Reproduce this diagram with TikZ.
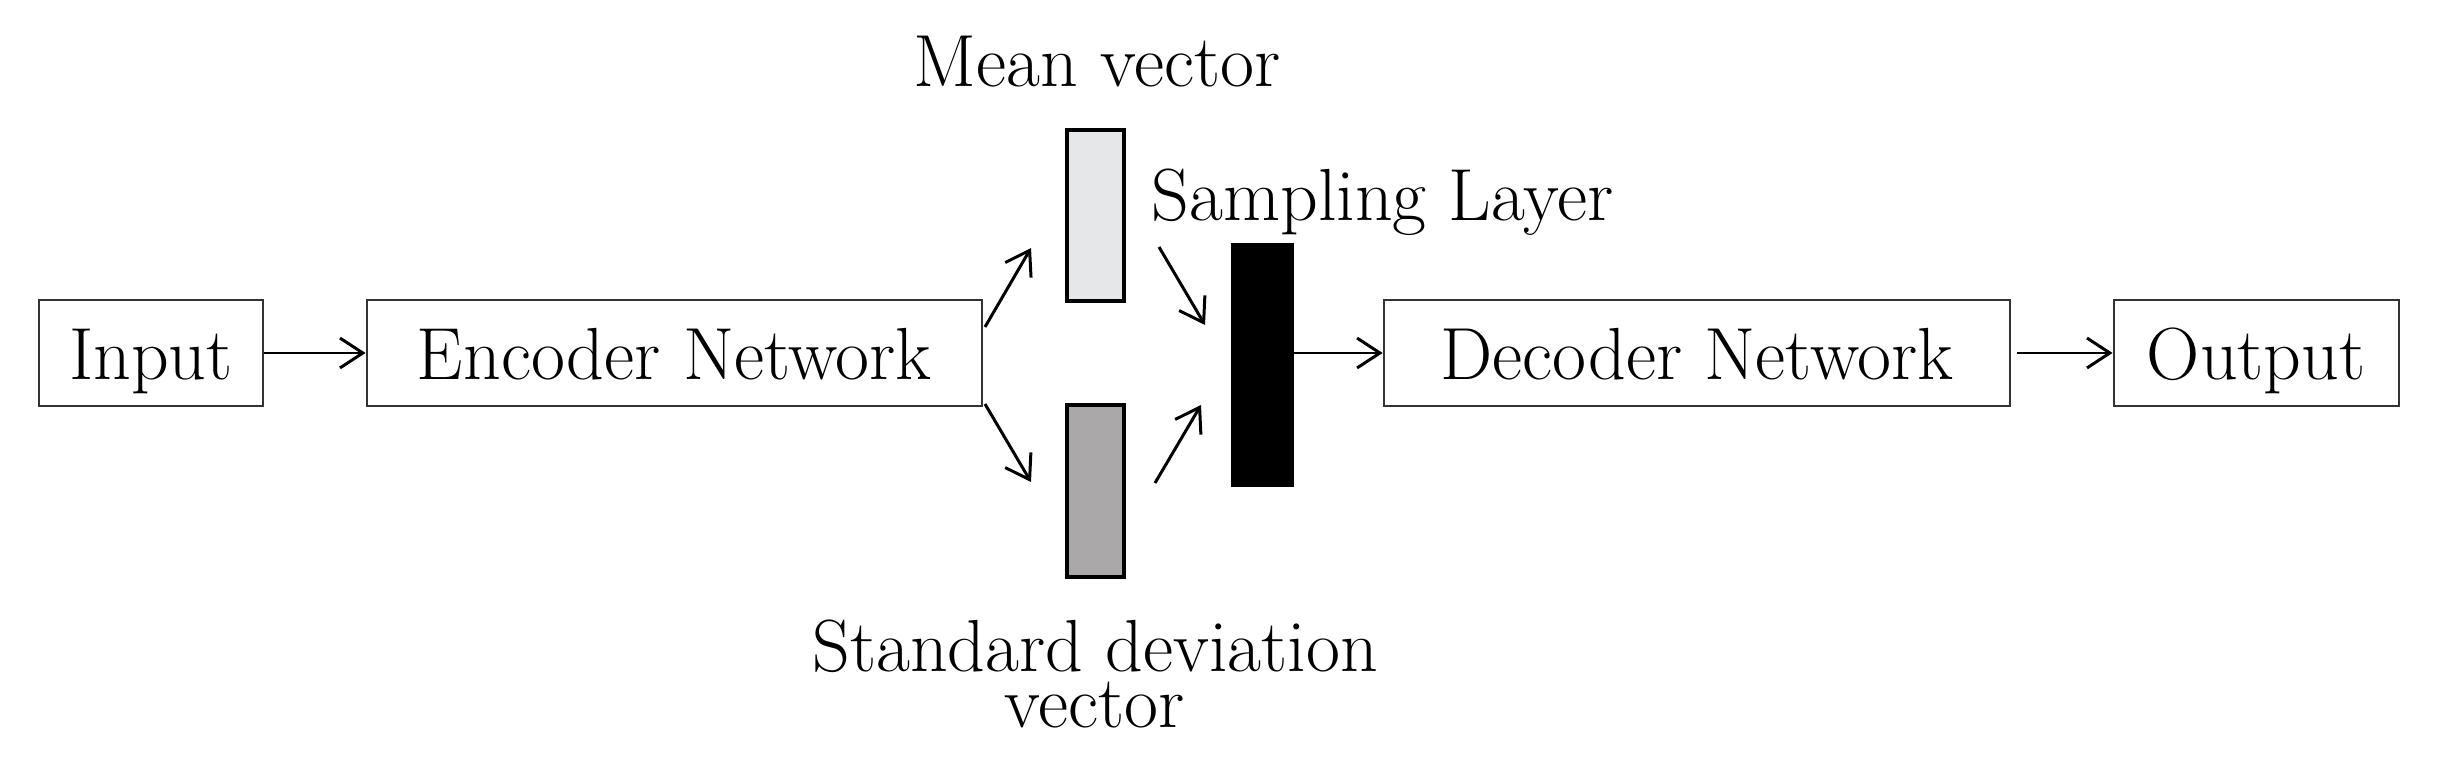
\documentclass[tikz,border=0pt]{standalone}
\usetikzlibrary{arrows.meta}
\definecolor{meangray}{RGB}{230,231,232}
\definecolor{stdgray}{RGB}{170,168,168}
\begin{document}
\begin{tikzpicture}[x=0.01cm, y=0.01cm, auto,
    >={Straight Barb[length=6.5pt,width=8.5pt]},
    box/.style={rectangle, draw=black!80, line width=0.6pt, minimum height=1.06cm, inner sep=0pt, text height=0.62cm, text depth=0.1cm, font=\fontsize{21}{18}\selectfont},
    bar/.style={rectangle, draw, line width=0.9pt, minimum width=0.57cm, inner sep=0pt},
    lbl/.style={inner sep=0pt, align=center, font=\fontsize{21}{15.8}\selectfont}]

    \useasboundingbox (0,0) rectangle (2439,-764);

    \node[box, minimum width=2.24cm] (IN) at (151,-353) {Input};
    \node[box, minimum width=6.15cm, right of=IN, node distance=5.23cm] (ENC) {Encoder Network};
    \node[box, minimum width=6.26cm, right of=ENC, node distance=10.22cm] (DEC) {Decoder Network};
    \node[box, minimum width=2.85cm, right of=DEC, node distance=5.59cm] (OUT) {Output};

    \node[bar, fill=meangray, minimum height=1.71cm] (MU) at (1095.5,-215.5) {};
    \node[bar, fill=stdgray, minimum height=1.72cm] (SIG) at (1095.5,-491) {};
    \node[bar, fill=black, minimum width=0.59cm, minimum height=2.40cm] (SAMP) at (1262.5,-365) {};

    \node[lbl, anchor=base] (MUL) at (1097,-87) {Mean vector};
    \node[lbl, anchor=base west] (SAMPL) at (1151,-221) {Sampling Layer};
    \node[lbl, anchor=base] (SIGL) at (1095,-727) {Standard deviation\\vector};

    % free ends of the short arrows
    \coordinate (e1) at (985,-327);
    \coordinate (e2) at (1031,-248);
    \coordinate (e3) at (985,-404);
    \coordinate (e4) at (1031,-482);
    \coordinate (s1) at (1159,-247);
    \coordinate (s2) at (1205,-325);
    \coordinate (s3) at (1155,-483);
    \coordinate (s4) at (1201,-405);

    \draw[->, line width=0.85pt] (IN) -- (ENC);
    \draw[->, line width=0.85pt] (e1) -- (e2);
    \draw[->, line width=0.85pt] (e3) -- (e4);
    \draw[->, line width=0.85pt] (s1) -- (s2);
    \draw[->, line width=0.85pt] (s3) -- (s4);
    \draw[->, line width=0.85pt] (SAMP.east |- DEC.west) -- (DEC.west);
    \draw[->, line width=0.85pt] ([xshift=0.06cm]DEC.east) -- (OUT);
\end{tikzpicture}
\end{document}
